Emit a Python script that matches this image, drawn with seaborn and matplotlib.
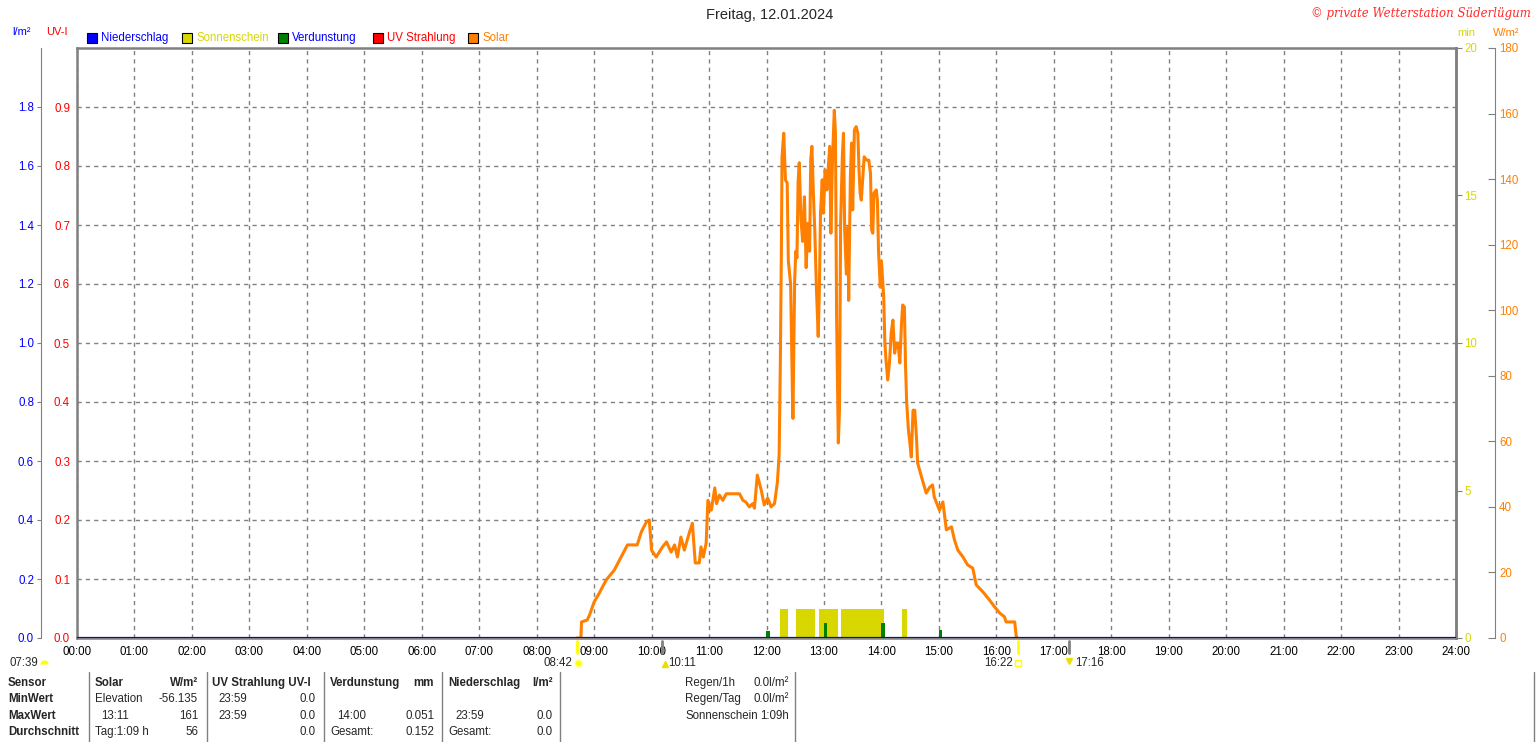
import numpy as np
import pandas as pd
import seaborn as sns
import matplotlib
matplotlib.use('Agg')
import matplotlib.pyplot as plt
from matplotlib.lines import Line2D
from matplotlib.patches import Rectangle

# solar radiation W/m2 over the day
solar_time = [8.70, 8.77, 8.78, 8.80, 8.88, 8.92, 9.00, 9.09, 9.21, 9.35, 9.47, 9.58, 9.75, 9.82,
              9.91, 9.96, 10.00, 10.08, 10.19, 10.26, 10.34, 10.40, 10.45, 10.51, 10.57, 10.66,
              10.71, 10.76, 10.83, 10.86, 10.90, 10.95, 10.98, 11.04, 11.10, 11.13, 11.18, 11.24,
              11.30, 11.53, 11.59, 11.64, 11.70, 11.76, 11.79, 11.84, 11.91, 11.96, 12.02, 12.08,
              12.14, 12.19, 12.22, 12.24, 12.26, 12.27, 12.30, 12.33, 12.36, 12.38, 12.42, 12.43,
              12.45, 12.46, 12.49, 12.51, 12.53, 12.55, 12.57, 12.60, 12.63, 12.66, 12.69, 12.72,
              12.75, 12.77, 12.79, 12.82, 12.84, 12.87, 12.90, 12.92, 12.94, 12.97, 12.99, 13.02,
              13.05, 13.08, 13.10, 13.12, 13.15, 13.18, 13.20, 13.22, 13.25, 13.27, 13.29, 13.32,
              13.34, 13.36, 13.39, 13.42, 13.43, 13.46, 13.48, 13.50, 13.53, 13.56, 13.59, 13.61,
              13.63, 13.65, 13.68, 13.70, 13.74, 13.78, 13.81, 13.83, 13.85, 13.87, 13.91, 13.93,
              13.95, 13.98, 14.00, 14.04, 14.06, 14.08, 14.11, 14.14, 14.17, 14.20, 14.23, 14.26,
              14.29, 14.32, 14.35, 14.37, 14.40, 14.42, 14.44, 14.47, 14.49, 14.52, 14.55, 14.58,
              14.61, 14.63, 14.70, 14.78, 14.84, 14.89, 14.92, 15.01, 15.07, 15.13, 15.22, 15.27,
              15.33, 15.42, 15.50, 15.59, 15.65, 15.77, 15.88, 15.97, 16.06, 16.14, 16.17, 16.32,
              16.35, 16.37]
solar_wm2 = [0, 0, 4.9, 5, 5.5, 7, 11, 13.7, 17.7, 20.7, 24.7, 28.4, 28.4, 32.3,
             35.4, 36, 26.8, 24.7, 27.8, 29.3, 26.2, 28.4, 24.7, 30.8, 26.8, 32.3,
             35, 22.9, 22.9, 27.8, 24.7, 29, 42, 39, 45.8, 41, 43.6, 42,
             44, 44, 42, 41.5, 40, 41, 39.6, 49.7, 45, 40.6, 42.7, 40,
             41, 47.6, 56, 82.7, 120.5, 146.7, 154, 139.7, 138.8, 115, 108, 97,
             75.7, 67, 109, 118, 116, 139, 145, 127.5, 121, 134.6, 113, 126.5,
             118, 146, 150, 133.6, 124.5, 106, 92, 106, 129.6, 139.8, 129.6, 142.8,
             136.7, 145, 150, 123.5, 146.8, 161, 154, 98, 59.5, 69.5, 126.5, 146.8,
             154, 124.5, 111, 125.4, 103, 140.7, 151, 130.6, 155, 156, 154, 142.8,
             135.7, 133.6, 141.8, 146.8, 145.8, 145.8, 141.8, 124.5, 123.5, 135.7, 136.7, 133.6,
             118, 107, 115, 104, 90, 84.8, 78.7, 83.9, 93, 97, 86.9, 90,
             90, 83.9, 96, 101.6, 101, 82.7, 71.7, 63.5, 60.4, 55.2, 69.5, 69.5,
             61.3, 53.4, 49, 44.2, 46, 46.7, 43, 39, 41.5, 33, 33.9, 30,
             26.8, 24.7, 22.3, 21.3, 16.2, 14, 11.6, 9.5, 7.6, 6.5, 4.9, 4.9,
             0, 0]

# sunshine minutes (intervals in hours)
sun_start = [12.24, 12.52, 12.71, 12.92, 13.29, 14.35]
sun_end = [12.38, 12.70, 12.84, 13.24, 14.05, 14.44]

# evaporation mm
evap_time = [12.0, 13.0, 14.0, 15.0]
evap_mm = [0.025, 0.050, 0.051, 0.026]

hours = list(range(25))
hour_labels = [f"{h:02d}:00" for h in hours]

BLUE = '#0000ff'
RED = '#ff0000'
YELLOW = '#d8d800'
GREEN = '#008000'
ORANGE = '#ff8000'
GREY = '#808080'

sns.set_style("white")
plt.rcParams['font.family'] = ['Liberation Sans', 'DejaVu Sans']
plt.rcParams['font.size'] = 8

W, H = 1536, 742
PT = 0.72  # points per pixel at dpi 100


def fx(px):
    return px / W


def fy(py):
    return 1 - py / H


fig = plt.figure(figsize=(W / 100, H / 100), dpi=100)
fig.patch.set_facecolor('white')
ax = fig.add_axes([fx(77), fy(638), (1456 - 77) / W, (638 - 48) / H])

# main axis: time + UV-I
ax.set_xlim(0, 24)
ax.set_ylim(0, 1.0)
ax.set_xticks(hours)
ax.set_xticklabels(hour_labels)
ax.set_yticks(np.round(np.arange(0, 1.0, 0.1), 1))
ax.set_yticklabels([f"{v:.1f}" for v in np.arange(0, 1.0, 0.1)])
ax.tick_params(axis='x', length=0, pad=6, labelcolor='black', labelsize=8.3)
ax.tick_params(axis='y', length=0, pad=5, labelcolor=RED, labelsize=8.3)
ax.grid(True, color=GREY, linestyle=(0, (3, 3)), lw=1)
for s in ax.spines.values():
    s.set_color(GREY)
    s.set_linewidth(1.8)

# sunshine minutes axis
ax_min = ax.twinx()
ax_min.set_ylim(0, 20)
ax_min.set_yticks([0, 5, 10, 15, 20])
ax_min.tick_params(axis='y', labelcolor=YELLOW, color=GREY, length=4, pad=2, labelsize=8.3)
for k in ['left', 'top', 'bottom']:
    ax_min.spines[k].set_visible(False)
ax_min.spines['right'].set_color(GREY)
ax_min.spines['right'].set_linewidth(1.8)
sun_width = np.array(sun_end) - np.array(sun_start)
ax_min.bar(sun_start, [1.0] * len(sun_start), width=sun_width,
           align='edge', color=YELLOW, lw=0)

# l/m2 axis, offset to the left (evaporation drawn on it)
ax_l = ax.twinx()
ax_l.set_ylim(0, 2.0)
ax_l.yaxis.tick_left()
ax_l.spines['left'].set_position(('outward', 36 * PT))
ax_l.spines['left'].set_visible(True)
ax_l.spines['left'].set_color(GREY)
for k in ['right', 'top', 'bottom']:
    ax_l.spines[k].set_visible(False)
ax_l.set_yticks(np.round(np.arange(0, 2.0, 0.2), 1))
ax_l.set_yticklabels([f"{v:.1f}" for v in np.arange(0, 2.0, 0.2)])
ax_l.tick_params(axis='y', labelcolor=BLUE, color=GREY, length=3, pad=2, labelsize=8.3)
ax_l.bar([t + 0.025 for t in evap_time], evap_mm, width=0.06, color=GREEN, lw=0)

# solar W/m2 axis
ax_w = ax.twinx()
ax_w.set_ylim(0, 180)
ax_w.set_yticks(range(0, 181, 20))
ax_w.spines['right'].set_position(('outward', 39 * PT))
ax_w.spines['right'].set_color(GREY)
for k in ['left', 'top', 'bottom']:
    ax_w.spines[k].set_visible(False)
ax_w.tick_params(axis='y', labelcolor=ORANGE, color=GREY, direction='in', length=5, pad=3,
                 labelsize=8.3)
solar_df = pd.DataFrame({'time': solar_time, 'wm2': solar_wm2})
sns.lineplot(data=solar_df, x='time', y='wm2', ax=ax_w, color=ORANGE, lw=2.2,
             estimator=None, sort=False)
ax_w.set_xlabel('')
ax_w.set_ylabel('')
ax_w.axhline(0, color=BLUE, lw=1.6, zorder=5)
ax_w.set_xlim(0, 24)

# marks below the axis
for t, c in [(8.70, '#ffff00'), (16.37, '#ffff00'), (10.18, GREY), (17.27, GREY)]:
    ax_w.plot([t, t], [-1.0, -4.5], color=c, lw=2, clip_on=False, zorder=6)

# titles and unit labels
fig.text(fx(770), fy(15), "Freitag, 12.01.2024", ha='center', va='center', fontsize=10.5)
fig.text(fx(1531), fy(13), "© private Wetterstation Süderlügum", ha='right', va='center',
         color='#ff2a2a', fontsize=8.5, style='italic', family='DejaVu Serif')
fig.text(fx(12), fy(32), "l/m²", color=BLUE, va='center')
fig.text(fx(46), fy(32), "UV-I", color=RED, va='center')
fig.text(fx(1457), fy(33), "min", color=YELLOW, va='center')
fig.text(fx(1493), fy(33), "W/m²", color=ORANGE, va='center')

# legend
legend_items = [("Niederschlag", BLUE, BLUE), ("Sonnenschein", YELLOW, YELLOW),
                ("Verdunstung", GREEN, BLUE), ("UV Strahlung", RED, RED), ("Solar", ORANGE, ORANGE)]
for i, (name, box, txt) in enumerate(legend_items):
    x0 = 87 + i * 95.3
    fig.add_artist(Rectangle((fx(x0), fy(43)), 10 / W, 10 / H, transform=fig.transFigure,
                             facecolor=box, edgecolor='black', lw=0.8))
    fig.text(fx(x0 + 14), fy(38), name, color=txt, va='center', fontsize=8.3)

# sunrise / sunset style labels
fig.text(fx(10), fy(663), "07:39", va='center', fontsize=8.3)
fig.add_artist(Line2D([fx(44)], [fy(664)], marker='o', ms=6, color='#ffff00', fillstyle='top',
                      markeredgewidth=0, transform=fig.transFigure))
fig.text(fx(572), fy(663), "08:42", va='center', ha='right', fontsize=8.3)
fig.add_artist(Line2D([fx(578)], [fy(663)], marker='o', ms=5, color='#ffff00',
                      markeredgecolor='#ffff99', transform=fig.transFigure))
fig.add_artist(Line2D([fx(665)], [fy(664)], marker='^', ms=5, color='#e8e000',
                      transform=fig.transFigure))
fig.text(fx(668), fy(663), "10:11", va='center', fontsize=8.3)
fig.text(fx(1013), fy(663), "16:22", va='center', ha='right', fontsize=8.3)
fig.add_artist(Line2D([fx(1018)], [fy(663)], marker='s', ms=4, color='none',
                      markeredgecolor='#ffff00', transform=fig.transFigure))
fig.add_artist(Line2D([fx(1069)], [fy(661)], marker='v', ms=5, color='#e8e000',
                      transform=fig.transFigure))
fig.text(fx(1075), fy(663), "17:16", va='center', fontsize=8.3)

# summary table
for xs in [89, 207, 324, 442, 560, 795, 1534]:
    fig.add_artist(Line2D([fx(xs), fx(xs)], [fy(672), fy(742)], color=GREY, lw=1,
                          transform=fig.transFigure))

row_y = [683, 699, 716, 732]
row_names = ["Sensor", "MinWert", "MaxWert", "Durchschnitt"]
for y, n in zip(row_y, row_names):
    fig.text(fx(8), fy(y), n, va='center', weight='bold', fontsize=8.3)

cells = [
    (95, 683, "Solar", 'left', 'bold'), (198, 683, "W/m²", 'right', 'bold'),
    (212, 683, "UV Strahlung UV-I", 'left', 'bold'),
    (330, 683, "Verdunstung", 'left', 'bold'), (434, 683, "mm", 'right', 'bold'),
    (448, 683, "Niederschlag", 'left', 'bold'), (553, 683, "l/m²", 'right', 'bold'),
    (95, 699, "Elevation", 'left', 'normal'), (198, 699, "-56.135", 'right', 'normal'),
    (218, 699, "23:59", 'left', 'normal'), (316, 699, "0.0", 'right', 'normal'),
    (101, 716, "13:11", 'left', 'normal'), (198, 716, "161", 'right', 'normal'),
    (218, 716, "23:59", 'left', 'normal'), (316, 716, "0.0", 'right', 'normal'),
    (337, 716, "14:00", 'left', 'normal'), (434, 716, "0.051", 'right', 'normal'),
    (455, 716, "23:59", 'left', 'normal'), (553, 716, "0.0", 'right', 'normal'),
    (95, 732, "Tag:1:09 h", 'left', 'normal'), (198, 732, "56", 'right', 'normal'),
    (316, 732, "0.0", 'right', 'normal'),
    (330, 732, "Gesamt:", 'left', 'normal'), (434, 732, "0.152", 'right', 'normal'),
    (448, 732, "Gesamt:", 'left', 'normal'), (553, 732, "0.0", 'right', 'normal'),
    (685, 683, "Regen/1h", 'left', 'normal'), (789, 683, "0.0l/m²", 'right', 'normal'),
    (685, 699, "Regen/Tag", 'left', 'normal'), (789, 699, "0.0l/m²", 'right', 'normal'),
    (685, 716, "Sonnenschein", 'left', 'normal'), (789, 716, "1:09h", 'right', 'normal'),
]
for x, y, s, ha, w in cells:
    fig.text(fx(x), fy(y), s, ha=ha, va='center', weight=w, fontsize=8.3)

fig.savefig("out.png", dpi=100, facecolor='white')
